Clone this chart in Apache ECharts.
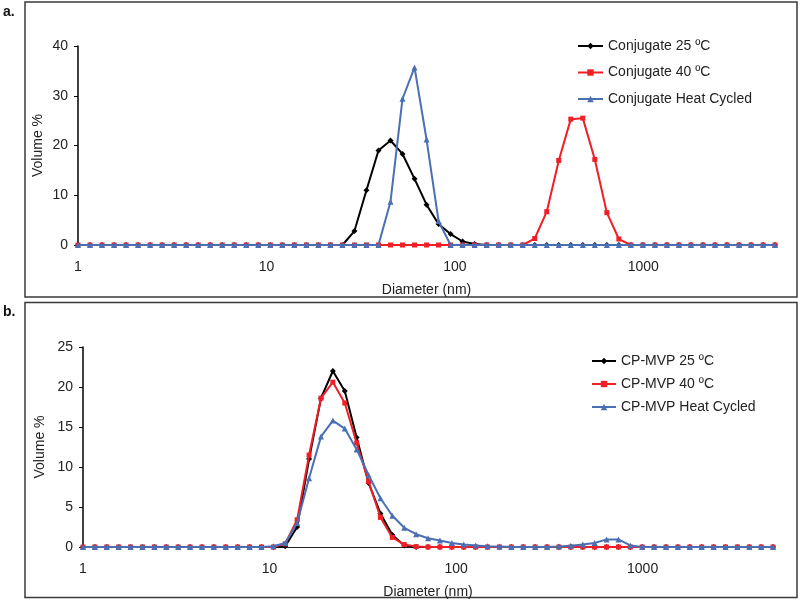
<!DOCTYPE html>
<html>
<head>
<meta charset="utf-8">
<script src="https://cdn.jsdelivr.net/npm/echarts@6/dist/echarts.min.js"></script>
<style>
html,body{margin:0;padding:0;background:#fff;}
#chart{width:800px;height:600px;}
</style>
</head>
<body>
<div id="chart"></div>
<script>
// Diameter bins (nm)
const diameters = [1, 1.158, 1.341, 1.554, 1.799, 2.084, 2.414, 2.796, 3.238, 3.750,
  4.344, 5.031, 5.827, 6.749, 7.816, 9.053, 10.49, 12.14, 14.06, 16.29,
  18.87, 21.85, 25.31, 29.31, 33.95, 39.32, 45.54, 52.75, 61.09, 70.76,
  81.95, 94.92, 109.9, 127.3, 147.5, 170.8, 197.8, 229.1, 265.4, 307.4,
  356.0, 412.3, 477.5, 553.1, 640.6, 741.9, 859.3, 995.2, 1153, 1335,
  1546, 1791, 2074, 2402, 2782, 3223, 3732, 4323, 5000];

// Panel a
const conj25 = [0,0,0,0,0,0,0,0,0,0,
  0,0,0,0,0,0,0,0,0,0,
  0,0,0,2.8,11.0,19.0,21.0,18.3,13.3,8.1,
  4.2,2.2,0.7,0.2,0,0,0,0,0,0,
  0,0,0,0,0,0,0,0,0,0,
  0,0,0,0,0,0,0,0,0];
const conj40 = [0,0,0,0,0,0,0,0,0,0,
  0,0,0,0,0,0,0,0,0,0,
  0,0,0,0,0,0,0,0,0,0,
  0,0,0,0,0,0,0,0,1.3,6.7,
  17.0,25.3,25.5,17.2,6.5,1.2,0,0,0,0,
  0,0,0,0,0,0,0,0,0];
const conjHC = [0,0,0,0,0,0,0,0,0,0,
  0,0,0,0,0,0,0,0,0,0,
  0,0,0,0,0,0,8.7,29.4,35.7,21.2,
  4.8,0,0,0,0,0,0,0,0,0,
  0,0,0,0,0,0,0,0,0,0,
  0,0,0,0,0,0,0,0,0];

// Panel b
const mvp25 = [0,0,0,0,0,0,0,0,0,0,
  0,0,0,0,0,0,0,0.1,2.5,11.0,
  18.6,22.0,19.5,13.7,8.0,4.2,1.5,0.2,0,0,
  0,0,0,0,0,0,0,0,0,0,
  0,0,0,0,0,0,0,0,0,0,
  0,0,0,0,0,0,0,0,0];
const mvp40 = [0,0,0,0,0,0,0,0,0,0,
  0,0,0,0,0,0,0,0.4,3.4,11.5,
  18.6,20.6,18.0,13.0,8.2,3.7,1.2,0.3,0.05,0,
  0,0,0,0,0,0,0,0,0,0,
  0,0,0,0,0,0,0,0,0,0,
  0,0,0,0,0,0,0,0,0];
const mvpHC = [0,0,0,0,0,0,0,0,0,0,
  0,0,0,0,0,0,0.1,0.5,3.0,8.6,
  13.8,15.8,14.8,12.2,9.0,6.1,3.9,2.4,1.6,1.1,
  0.8,0.5,0.3,0.2,0.1,0.05,0,0,0,0,
  0.05,0.15,0.3,0.5,0.95,0.95,0.2,0,0,0,
  0,0,0,0,0,0,0,0,0];

const xTickLabels = [1, 10, 100, 1000];
const yTicksA = [0, 10, 20, 30, 40];
const yTicksB = [0, 5, 10, 15, 20, 25];
const namesA = ['Conjugate 25 ºC', 'Conjugate 40 ºC', 'Conjugate Heat Cycled'];
const namesB = ['CP-MVP 25 ºC', 'CP-MVP 40 ºC', 'CP-MVP Heat Cycled'];

const FONT = '"Liberation Sans", Arial, sans-serif';
const colors = ['#000000', '#ee1f26', '#4a6fb3'];
const symbols = ['diamond', 'rect', 'triangle'];
const symSizes = [6, 5, 6];

function pairs(vals) { return diameters.map((d, i) => [d, vals[i]]); }

function mkSeries(name, vals, k, gi) {
  return {
    type: 'line', name: name, xAxisIndex: gi, yAxisIndex: gi,
    data: pairs(vals), symbol: symbols[k], symbolSize: symSizes[k],
    showAllSymbol: true,
    lineStyle: { color: colors[k], width: 2 },
    itemStyle: { color: colors[k] },
    z: 2 + k
  };
}

function mkX(gi) {
  return {
    type: 'log', logBase: 10, gridIndex: gi, min: 1, max: 5000,
    axisLine: { show: true, onZero: false, lineStyle: { color: '#222', width: 1 } },
    axisTick: { show: false }, splitLine: { show: false },
    axisLabel: {
      fontSize: 14, color: '#222', fontFamily: FONT, margin: 15,
      showMaxLabel: false,
      formatter: v => { const r = Math.round(v); return xTickLabels.includes(r) && Math.abs(v - r) < 1e-6 * r + 1e-6 ? String(r) : ''; }
    },
    name: 'Diameter (nm)', nameLocation: 'middle', nameGap: 38, nameMoveOverlap: false,
    nameTextStyle: { fontSize: 14, color: '#222', fontFamily: FONT }
  };
}

function mkY(gi, ticks, gap) {
  return {
    type: 'value', gridIndex: gi, min: ticks[0], max: ticks[ticks.length - 1],
    interval: ticks[1] - ticks[0],
    axisLine: { show: true, lineStyle: { color: '#000', width: 1.5 } },
    axisTick: { show: true, inside: false, length: 4, lineStyle: { color: '#000' } },
    splitLine: { show: false },
    axisLabel: { fontSize: 14, color: '#222', fontFamily: FONT, margin: 10 },
    name: 'Volume %', nameLocation: 'middle', nameGap: gap, nameRotate: 90, nameMoveOverlap: false,
    nameTextStyle: { fontSize: 14, color: '#222', fontFamily: FONT }
  };
}

const chart = echarts.init(document.getElementById('chart'), null, { renderer: 'canvas' });
chart.setOption({
  animation: false,
  backgroundColor: '#fff',
  textStyle: { fontFamily: FONT },
  graphic: [
    { type: 'rect', shape: { x: 25, y: 2, width: 772, height: 295 }, style: { fill: null, stroke: '#3a3a3a', lineWidth: 1.5 }, z: 0 },
    { type: 'rect', shape: { x: 25, y: 302.5, width: 772, height: 295 }, style: { fill: null, stroke: '#3a3a3a', lineWidth: 1.5 }, z: 0 },
    { type: 'text', left: 3, top: 5, style: { text: 'a.', font: 'bold 14px ' + FONT, fill: '#111' } },
    { type: 'text', left: 3, top: 305, style: { text: 'b.', font: 'bold 14px ' + FONT, fill: '#111' } }
  ],
  grid: [
    { left: 78, right: 25, top: 46, height: 199 },
    { left: 83, right: 27, top: 347, height: 201 }
  ],
  xAxis: [mkX(0), mkX(1)],
  yAxis: [mkY(0, yTicksA, 33), mkY(1, yTicksB, 36)],
  legend: [
    { data: namesA, orient: 'vertical', left: 577, top: 39, padding: 0, itemWidth: 25, itemHeight: 8, itemGap: 12.5,
      textStyle: { fontSize: 14, color: '#222', fontFamily: FONT } },
    { data: namesB, orient: 'vertical', left: 591, top: 354, padding: 0, itemWidth: 24, itemHeight: 8, itemGap: 9,
      textStyle: { fontSize: 14, color: '#222', fontFamily: FONT } }
  ],
  series: [
    mkSeries(namesA[0], conj25, 0, 0),
    mkSeries(namesA[1], conj40, 1, 0),
    mkSeries(namesA[2], conjHC, 2, 0),
    mkSeries(namesB[0], mvp25, 0, 1),
    mkSeries(namesB[1], mvp40, 1, 1),
    mkSeries(namesB[2], mvpHC, 2, 1)
  ]
});
</script>
</body>
</html>
